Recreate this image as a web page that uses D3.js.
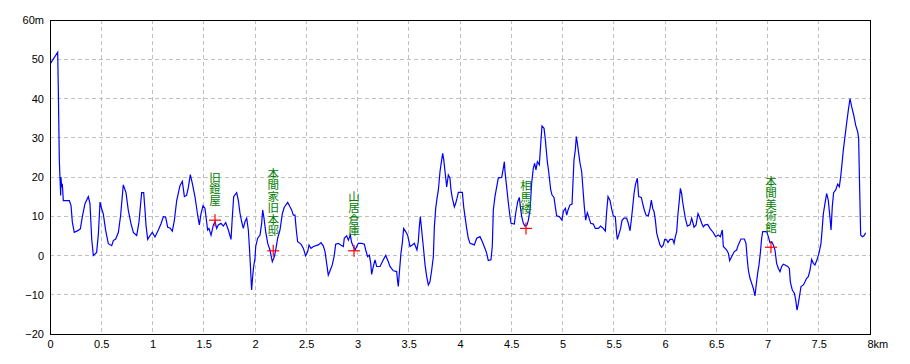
<!DOCTYPE html>
<html>
<head>
<meta charset="utf-8">
<script src="https://cdn.jsdelivr.net/npm/d3@7"></script>
<style>
  body { margin: 0; background: #fff; }
</style>
</head>
<body>
<div id="plot"></div>
<script>
// elevation profile: [distance km, elevation m]
var profile = [
  [0.007,49.0],[0.075,51.8],[0.081,42.6],[0.091,24.2],[0.104,15.3],[0.107,20.0],[0.114,17.4],[0.120,18.3],
  [0.130,14.0],[0.189,14.0],[0.205,12.7],[0.218,8.5],[0.237,5.9],[0.276,6.4],[0.296,6.8],[0.315,9.8],
  [0.341,13.2],[0.374,15.0],[0.390,13.2],[0.407,4.2],[0.423,0.0],[0.455,0.8],[0.472,5.5],[0.488,13.6],
  [0.504,11.9],[0.520,10.6],[0.543,6.4],[0.569,3.0],[0.602,2.5],[0.618,3.8],[0.641,4.2],[0.667,5.9],
  [0.689,10.2],[0.715,18.0],[0.741,16.1],[0.764,11.5],[0.790,8.1],[0.813,5.9],[0.846,5.1],[0.868,8.5],
  [0.894,16.0],[0.914,16.0],[0.927,11.5],[0.937,7.6],[0.953,4.1],[0.976,5.1],[0.998,5.9],[1.024,4.7],
  [1.057,6.5],[1.083,8.1],[1.106,9.9],[1.128,9.8],[1.148,7.2],[1.171,7.0],[1.193,6.2],[1.213,8.9],
  [1.236,14.0],[1.268,17.8],[1.291,18.9],[1.311,15.0],[1.333,15.3],[1.350,17.4],[1.369,20.6],[1.389,18.3],
  [1.415,14.9],[1.441,10.2],[1.457,7.8],[1.473,10.6],[1.493,12.7],[1.512,12.0],[1.538,6.5],[1.551,6.9],
  [1.571,5.2],[1.594,7.8],[1.610,8.6],[1.626,6.9],[1.642,7.8],[1.668,8.2],[1.691,7.5],[1.714,8.4],
  [1.740,6.5],[1.766,4.1],[1.779,9.9],[1.792,15.0],[1.821,16.0],[1.837,14.1],[1.854,10.7],[1.870,8.6],
  [1.886,6.9],[1.902,8.6],[1.919,9.5],[1.935,6.5],[1.945,2.3],[1.954,-2.0],[1.967,-8.8],[1.977,-5.4],
  [1.987,-2.8],[2.000,-0.7],[2.007,2.3],[2.026,4.4],[2.049,5.2],[2.065,8.2],[2.075,11.6],[2.088,9.5],
  [2.104,6.1],[2.124,3.1],[2.146,1.4],[2.169,-1.6],[2.189,-0.3],[2.202,1.4],[2.221,4.4],[2.244,6.5],
  [2.267,10.7],[2.286,12.3],[2.319,13.5],[2.341,12.4],[2.358,11.6],[2.374,10.3],[2.390,10.3],[2.403,6.5],
  [2.416,3.5],[2.449,2.9],[2.472,1.8],[2.494,-0.1],[2.514,1.0],[2.527,2.7],[2.546,1.8],[2.569,2.3],
  [2.618,2.7],[2.644,3.3],[2.667,2.4],[2.683,1.0],[2.699,-2.0],[2.715,-5.0],[2.735,-3.7],[2.754,-2.4],
  [2.774,0.1],[2.787,2.9],[2.813,3.1],[2.836,2.7],[2.862,2.3],[2.871,4.4],[2.894,5.0],[2.911,3.9],
  [2.930,5.2],[2.943,3.3],[2.959,2.3],[2.976,1.4],[2.992,2.3],[3.008,3.1],[3.041,3.1],[3.067,2.9],
  [3.080,1.4],[3.099,-0.3],[3.116,0.1],[3.129,-2.0],[3.138,-4.8],[3.154,-2.8],[3.171,-1.1],[3.187,-2.8],
  [3.220,-2.8],[3.252,-1.1],[3.275,0.0],[3.301,-1.6],[3.317,-2.8],[3.350,-3.9],[3.382,-4.1],[3.392,-6.7],
  [3.398,-7.9],[3.408,-4.5],[3.424,0.6],[3.437,3.1],[3.450,6.9],[3.470,6.1],[3.489,5.2],[3.512,2.3],
  [3.535,2.7],[3.554,3.1],[3.567,2.3],[3.580,1.4],[3.593,3.5],[3.603,7.3],[3.613,9.9],[3.626,6.5],
  [3.642,2.3],[3.659,-2.4],[3.675,-5.4],[3.691,-7.5],[3.707,-6.7],[3.724,-3.7],[3.740,-0.3],[3.750,7.3],
  [3.763,12.0],[3.776,14.6],[3.789,16.7],[3.805,21.4],[3.821,24.3],[3.831,26.0],[3.841,24.5],[3.854,21.4],
  [3.870,17.5],[3.886,20.5],[3.902,19.7],[3.912,16.7],[3.925,14.6],[3.945,12.4],[3.958,13.3],[3.971,14.6],
  [3.984,16.1],[4.023,16.1],[4.036,12.4],[4.049,9.9],[4.065,6.9],[4.081,4.4],[4.098,3.1],[4.120,2.9],
  [4.140,2.7],[4.163,4.4],[4.195,4.8],[4.218,3.5],[4.244,1.8],[4.260,0.6],[4.276,-1.3],[4.302,-1.1],
  [4.315,2.3],[4.325,11.6],[4.341,15.0],[4.358,17.5],[4.374,19.8],[4.407,19.9],[4.420,21.8],[4.433,23.9],
  [4.439,21.4],[4.455,17.5],[4.472,13.3],[4.488,9.9],[4.498,8.2],[4.530,8.0],[4.543,10.7],[4.563,13.7],
  [4.579,14.8],[4.589,12.4],[4.602,9.9],[4.618,8.2],[4.634,7.5],[4.654,7.8],[4.667,9.0],[4.683,11.6],
  [4.699,18.4],[4.715,22.2],[4.728,23.5],[4.741,21.8],[4.755,23.9],[4.774,23.1],[4.787,28.2],[4.800,33.0],
  [4.820,32.4],[4.833,29.4],[4.852,23.9],[4.865,21.4],[4.885,16.7],[4.898,15.4],[4.917,14.8],[4.930,12.4],
  [4.943,10.1],[4.969,9.9],[4.995,9.0],[5.008,11.2],[5.028,12.0],[5.041,10.3],[5.054,11.6],[5.073,12.9],
  [5.093,13.1],[5.099,16.7],[5.112,24.3],[5.125,26.9],[5.135,30.3],[5.145,28.6],[5.158,26.0],[5.171,23.5],
  [5.187,21.4],[5.203,15.8],[5.213,12.4],[5.226,9.0],[5.242,10.9],[5.255,9.9],[5.275,8.2],[5.301,8.0],
  [5.320,6.9],[5.350,6.9],[5.372,7.5],[5.398,6.9],[5.418,6.2],[5.431,11.2],[5.444,15.0],[5.463,14.1],
  [5.480,11.8],[5.496,10.1],[5.515,9.9],[5.528,5.6],[5.535,4.1],[5.548,5.2],[5.567,6.9],[5.580,8.9],
  [5.600,9.5],[5.626,9.5],[5.642,8.2],[5.659,6.3],[5.675,9.9],[5.685,12.4],[5.698,15.8],[5.711,18.0],
  [5.730,19.7],[5.743,15.0],[5.769,14.8],[5.782,13.3],[5.798,11.6],[5.815,10.3],[5.837,10.1],[5.854,12.0],
  [5.867,14.1],[5.880,12.0],[5.893,11.2],[5.906,9.0],[5.919,5.7],[5.932,4.4],[5.951,2.7],[5.967,2.1],
  [5.984,2.7],[5.997,4.1],[6.016,4.0],[6.029,3.3],[6.049,4.1],[6.075,4.1],[6.088,3.1],[6.101,4.8],
  [6.114,6.1],[6.127,10.7],[6.140,14.1],[6.150,17.1],[6.163,15.7],[6.172,13.7],[6.185,11.6],[6.198,9.5],
  [6.218,7.5],[6.244,7.8],[6.260,9.5],[6.270,8.6],[6.283,7.2],[6.303,7.8],[6.322,10.7],[6.335,9.9],
  [6.341,9.5],[6.358,8.2],[6.374,7.3],[6.390,7.8],[6.416,7.9],[6.439,6.9],[6.472,5.8],[6.494,4.8],
  [6.520,5.2],[6.540,4.8],[6.559,6.5],[6.569,2.3],[6.602,1.4],[6.618,0.6],[6.631,-1.3],[6.650,-0.3],
  [6.676,1.0],[6.699,1.4],[6.715,2.7],[6.741,4.2],[6.774,4.2],[6.790,3.1],[6.803,-1.1],[6.813,-3.7],
  [6.829,-5.8],[6.846,-7.1],[6.862,-8.4],[6.878,-10.3],[6.888,-7.9],[6.904,-4.5],[6.917,-2.4],[6.930,0.6],
  [6.943,4.4],[6.953,6.1],[6.992,6.1],[7.008,4.8],[7.024,3.3],[7.041,3.5],[7.057,2.7],[7.073,1.4],
  [7.089,-2.0],[7.106,-3.3],[7.122,-4.1],[7.138,-2.8],[7.154,-2.2],[7.171,-2.4],[7.197,-2.8],[7.213,-3.3],
  [7.223,-6.7],[7.242,-8.8],[7.262,-9.6],[7.275,-11.3],[7.288,-13.9],[7.301,-12.2],[7.317,-9.6],[7.327,-7.9],
  [7.350,-7.5],[7.366,-6.7],[7.382,-5.8],[7.398,-5.4],[7.415,-3.7],[7.431,-1.0],[7.447,-2.0],[7.463,-2.4],
  [7.483,-1.1],[7.502,0.6],[7.522,3.1],[7.535,7.3],[7.545,10.7],[7.561,13.3],[7.577,15.8],[7.593,14.1],
  [7.610,9.5],[7.620,6.5],[7.632,12.4],[7.645,16.0],[7.665,16.7],[7.685,18.2],[7.701,17.5],[7.714,20.1],
  [7.724,22.6],[7.740,26.9],[7.756,30.3],[7.772,33.7],[7.789,37.1],[7.805,40.0],[7.821,37.9],[7.841,35.8],
  [7.860,33.2],[7.880,31.5],[7.889,29.9],[7.899,17.1],[7.909,5.2],[7.925,4.8],[7.941,5.0],[7.958,5.8]
];

// landmarks along the route
var spotNames = ["旧鐙屋", "本間家旧本邸", "山居倉庫", "相馬楼", "本間美術館"];
var spotKm = [1.610, 2.178, 2.966, 4.644, 7.034];
var spotElev = [9.0, 1.2, 1.2, 6.9, 2.1];

var xTicks = [0, 0.5, 1, 1.5, 2, 2.5, 3, 3.5, 4, 4.5, 5, 5.5, 6, 6.5, 7, 7.5, 8];
var xTickLabels = ["0", "0.5", "1", "1.5", "2", "2.5", "3", "3.5", "4", "4.5", "5", "5.5", "6", "6.5", "7", "7.5", "8km"];
var yTicks = [-20, -10, 0, 10, 20, 30, 40, 50, 60];
var yTickLabels = ["\u221220", "\u221210", "0", "10", "20", "30", "40", "50", "60m"];

// set the dimensions and margins of the graph
var margin = {top: 20, right: 40, bottom: 30, left: 50},
    width = 820,
    height = 314;

var svg = d3.select("#plot")
  .append("svg")
    .attr("width", width + margin.left + margin.right)
    .attr("height", height + margin.top + margin.bottom)
  .append("g")
    .attr("transform", "translate(" + margin.left + "," + margin.top + ")");

var x = d3.scaleLinear().domain([0, 8]).range([0, width]);
var y = d3.scaleLinear().domain([-20, 60]).range([height, 0]);

// dashed grid
svg.append("g")
  .selectAll("line")
  .data(xTicks.slice(1, -1))
  .enter()
  .append("line")
    .attr("x1", function(d) { return x(d); })
    .attr("x2", function(d) { return x(d); })
    .attr("y1", 0)
    .attr("y2", height)
    .attr("stroke", "#c0c0c0")
    .attr("stroke-dasharray", "4,3")
    .attr("shape-rendering", "crispEdges");

svg.append("g")
  .selectAll("line")
  .data(yTicks.slice(1, -1))
  .enter()
  .append("line")
    .attr("x1", 0)
    .attr("x2", width)
    .attr("y1", function(d) { return y(d); })
    .attr("y2", function(d) { return y(d); })
    .attr("stroke", "#c0c0c0")
    .attr("stroke-dasharray", "4,3")
    .attr("shape-rendering", "crispEdges");

// axes: only the labels, the frame is drawn separately
var xAxis = svg.append("g")
    .attr("transform", "translate(0," + height + ")")
    .call(d3.axisBottom(x)
      .tickValues(xTicks)
      .tickFormat(function(d, i) { return xTickLabels[i]; })
      .tickSize(0)
      .tickPadding(6));

var yAxis = svg.append("g")
    .call(d3.axisLeft(y)
      .tickValues(yTicks)
      .tickFormat(function(d, i) { return yTickLabels[i]; })
      .tickSize(0)
      .tickPadding(6));

svg.selectAll(".domain").remove();
svg.selectAll(".tick text")
    .attr("font-family", "'Liberation Sans', Arial, sans-serif")
    .attr("font-size", "11px")
    .attr("fill", "#000");

// "8km": keep the 8 on its tick and let the unit trail
xAxis.selectAll(".tick text")
    .filter(function(d) { return d === 8; })
    .attr("text-anchor", "start")
    .attr("x", -3);

// the profile line
svg.append("defs").append("clipPath")
    .attr("id", "clip")
  .append("rect")
    .attr("width", width)
    .attr("height", height);

var line = d3.line()
    .x(function(d) { return x(d[0]); })
    .y(function(d) { return y(d[1]); });

svg.append("path")
    .datum(profile)
    .attr("clip-path", "url(#clip)")
    .attr("fill", "none")
    .attr("stroke", "#0000ff")
    .attr("stroke-width", 1.2)
    .attr("d", line);

// landmark crosses and vertical labels
var spots = svg.selectAll(".spot")
  .data(spotNames)
  .enter()
  .append("g")
    .attr("class", "spot")
    .attr("transform", function(d, i) {
        return "translate(" + x(spotKm[i]) + "," + y(spotElev[i]) + ")";
    });

spots.append("line")
    .attr("x1", -6).attr("x2", 6).attr("y1", 0).attr("y2", 0)
    .attr("stroke", "#ff0000").attr("stroke-width", 1.2);
spots.append("line")
    .attr("x1", 0).attr("x2", 0).attr("y1", -6).attr("y2", 6)
    .attr("stroke", "#ff0000").attr("stroke-width", 1.2);

// one vertical text per landmark, ending just above the cross
spots.append("text")
    .text(function(d) { return d; })
    .attr("x", 0)
    .attr("y", -14)
    .attr("writing-mode", "vertical-rl")
    .style("writing-mode", "vertical-rl")
    .attr("text-anchor", "end")
    .attr("font-family", "'Noto Sans CJK JP', sans-serif")
    .attr("font-size", "11.5px")
    .attr("fill", "#008000");

// frame
svg.append("rect")
    .attr("width", width)
    .attr("height", height)
    .attr("fill", "none")
    .attr("stroke", "#000")
    .attr("stroke-width", 1)
    .attr("shape-rendering", "crispEdges");
</script>
</body>
</html>
